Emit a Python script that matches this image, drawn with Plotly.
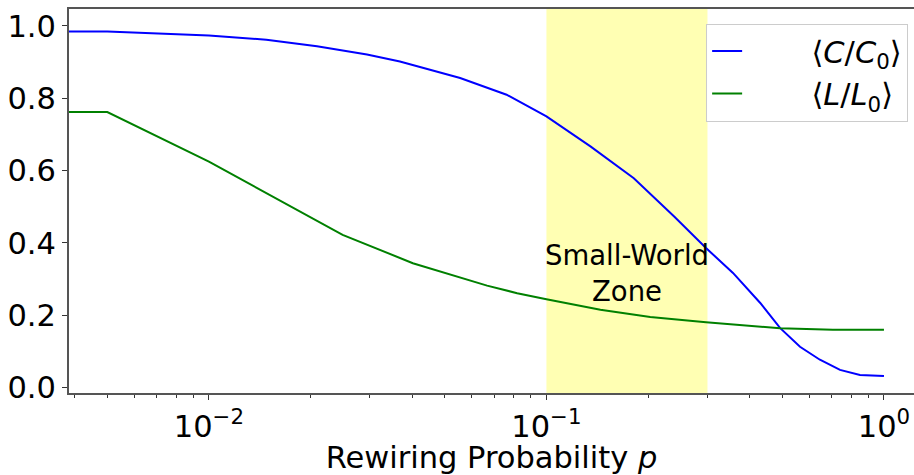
import numpy as np
import plotly.graph_objects as go

# Data
p_C = [0.003, 0.005, 0.01, 0.0148, 0.0209, 0.0294, 0.0368, 0.0555, 0.0762, 0.1, 0.135, 0.1815,
       0.239, 0.297, 0.357, 0.43, 0.492, 0.564, 0.646, 0.741, 0.849, 1.0]
C_vals = [0.985, 0.985, 0.974, 0.962, 0.944, 0.921, 0.902, 0.856, 0.81, 0.75, 0.667, 0.579,
          0.473, 0.386, 0.317, 0.234, 0.165, 0.113, 0.077, 0.049, 0.035, 0.032]

p_L = [0.003, 0.005, 0.01, 0.0249, 0.0402, 0.0507, 0.0667, 0.0819, 0.1, 0.1445, 0.203, 0.297,
       0.492, 0.706, 1.0]
L_vals = [0.762, 0.762, 0.625, 0.4225, 0.344, 0.315, 0.282, 0.261, 0.244, 0.215, 0.195, 0.181,
          0.164, 0.160, 0.160]

zone = [0.1, 0.3]
x_major = [0.01, 0.1, 1.0]
x_major_text = ["10<sup>−2</sup>", "10<sup>−1</sup>", "10<sup>0</sup>"]
y_ticks = [0.0, 0.2, 0.4, 0.6, 0.8, 1.0]
series_names = ["⟨<i>C</i>/<i>C</i><sub>0</sub>⟩", "⟨<i>L</i>/<i>L</i><sub>0</sub>⟩"]

minor_vals = [m * d for d in (0.001, 0.01, 0.1) for m in range(2, 10)]

FONT = "DejaVu Sans"
FS = 30.5
PAD = "\u00a0" * 6 + "\u2009"

fig = go.Figure()
fig.add_trace(go.Scatter(x=p_C, y=C_vals, mode="lines", line=dict(color="#0000ff", width=2),
                         name=PAD + series_names[0]))
fig.add_trace(go.Scatter(x=p_L, y=L_vals, mode="lines", line=dict(color="#008000", width=2),
                         name=PAD + series_names[1]))

fig.add_shape(type="rect", xref="x", yref="paper", x0=zone[0], x1=zone[1], y0=0, y1=1,
              fillcolor="#ffffb3", line=dict(width=0), layer="below")

fig.add_annotation(x=np.log10(np.sqrt(zone[0] * zone[1])), y=0.317, xref="x", yref="y",
                   text="Small-World<br>Zone", showarrow=False,
                   font=dict(family=FONT, size=27.5, color="black"), align="center")

fig.update_layout(
    width=914, height=475,
    margin=dict(l=69, r=0, t=9, b=82),
    paper_bgcolor="white", plot_bgcolor="white",
    font=dict(family=FONT, size=FS, color="black"),
    showlegend=True,
    legend=dict(x=0.754, y=0.962, xanchor="left", yanchor="top",
                bgcolor="rgba(255,255,255,0.85)", bordercolor="#cccccc", borderwidth=1,
                font=dict(family=FONT, size=FS, color="black")),
)

fig.update_xaxes(type="log", range=[np.log10(0.00385), 0.089],
                 tickmode="array", tickvals=x_major, ticktext=x_major_text,
                 ticks="outside", ticklen=5, tickwidth=1, tickcolor="#333333",
                 minor=dict(tickmode="array", tickvals=minor_vals, ticks="outside", ticklen=3,
                            tickwidth=1, tickcolor="#333333", showgrid=False),
                 showline=True, linecolor="#555555", linewidth=2, mirror=True,
                 showgrid=False, zeroline=False,
                 title=dict(text="Rewiring Probability <i>p</i>", font=dict(family=FONT, size=FS), standoff=10),
                 tickfont=dict(family=FONT, size=FS))
fig.update_yaxes(range=[-0.015, 1.047], tickmode="array", tickvals=y_ticks,
                 ticktext=[f"{v:.1f}" for v in y_ticks],
                 ticks="outside", ticklen=5, tickwidth=1, tickcolor="#333333",
                 showline=True, linecolor="#555555", linewidth=2,
                 showgrid=False, zeroline=False, tickfont=dict(family=FONT, size=FS))

fig.write_html("out.html")
